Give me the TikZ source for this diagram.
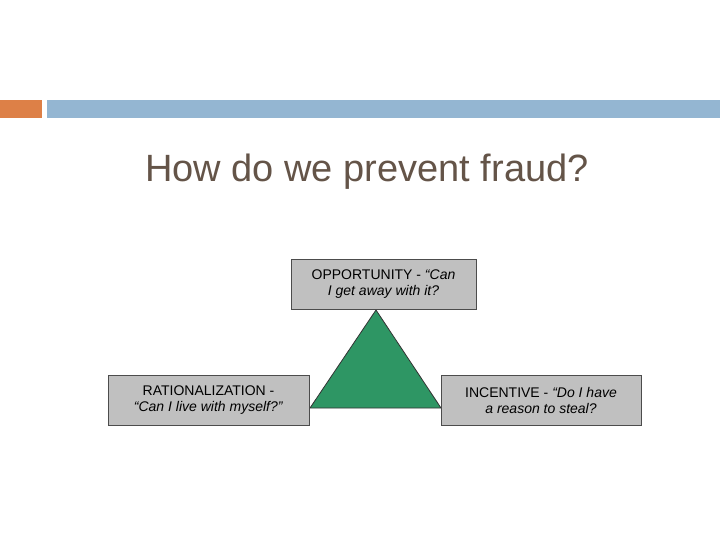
\documentclass[tikz,border=0pt]{standalone}
\usepackage{fontspec}
\setmainfont{Liberation Sans}
\definecolor{barorange}{RGB}{221,128,71}
\definecolor{barblue}{RGB}{148,182,210}
\definecolor{titlecol}{RGB}{100,84,72}
\definecolor{boxgray}{RGB}{192,192,192}
\definecolor{trigreen}{RGB}{46,150,100}
\tikzset{gbox/.style={draw=black!70,fill=boxgray,line width=0.8pt,minimum width=#1,minimum height=50pt,align=center,font=\fontsize{14}{16}\selectfont,inner sep=2pt}}
\begin{document}
\begin{tikzpicture}[x=1pt,y=-1pt]
\useasboundingbox (0,0) rectangle (720,540);
\fill[white] (0,0) rectangle (720,540);
\fill[barorange] (0,100) rectangle (42,118);
\fill[barblue] (47,100) rectangle (720,118);
\node[text=titlecol,font=\fontsize{38}{40}\selectfont] (title) at (367,172) {How do we prevent fraud?};
\coordinate (apex) at (376,310);
\coordinate (bl) at (310,408);
\coordinate (br) at (441,408);
\draw[fill=trigreen,draw=black!80,line width=0.8pt] (apex) -- (br) -- (bl) -- cycle;
\node[gbox=185pt] (opp) at (383.5,284) {OPPORTUNITY - \textit{“Can}\\\textit{I get away with it?}};
\node[gbox=201pt] (rat) at (208.5,400) {RATIONALIZATION -\\\textit{“Can I live with myself?”}};
\node[gbox=200pt] (inc) at (541,400) {INCENTIVE - \textit{“Do I have}\\\textit{a reason to steal?}};
\end{tikzpicture}
\end{document}
